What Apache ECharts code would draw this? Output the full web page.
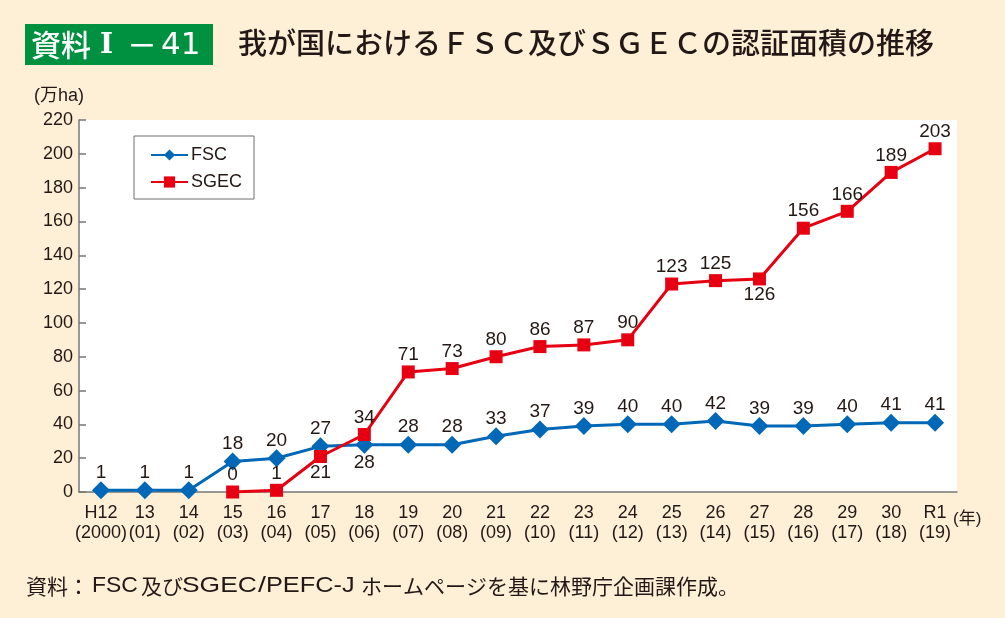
<!DOCTYPE html>
<html><head><meta charset="utf-8">
<script src="https://cdn.jsdelivr.net/npm/echarts@6/dist/echarts.min.js"></script>
<style>html,body{margin:0;padding:0;background:#fdf0d6;}#c{width:1005px;height:618px;}</style>
</head><body><div id="c"></div>
<script>
const categories = ['H12\n(2000)','13\n(01)','14\n(02)','15\n(03)','16\n(04)','17\n(05)','18\n(06)','19\n(07)','20\n(08)','21\n(09)','22\n(10)','23\n(11)','24\n(12)','25\n(13)','26\n(14)','27\n(15)','28\n(16)','29\n(17)','30\n(18)','R1\n(19)'];
const fsc = [1,1,1,18,20,27,28,28,28,33,37,39,40,40,42,39,39,40,41,41];
const sgec = [null,null,null,0,1,21,34,71,73,80,86,87,90,123,125,126,156,166,189,203];
const yTicks = [0,20,40,60,80,100,120,140,160,180,200,220];

const fscBelow = [6];
const sgecBelow = [5,15];
const numFont = '"Liberation Sans", Arial, sans-serif';
const cjk = '"Noto Sans CJK JP", sans-serif';
const ink = '#231815';

function mk(arr, below){
  return arr.map((v,i)=> v===null ? null : (below.includes(i) ? {value:v,label:{position:'bottom',distance:0}} : v));
}
function txt(x, y, s, font, fill, sx){
  return {type:'text',x:x,y:y,scaleX:sx||1,originX:0,originY:0,
    style:{x:0,y:0,text:s,font:font,fill:fill||ink,verticalAlign:'middle',align:'left'}};
}
const FY = 586;
const chart = echarts.init(document.getElementById('c'));
chart.setOption({
  backgroundColor:'#fdf0d6',
  animation:false,
  grid:{left:79,right:48,top:120,bottom:126,show:true,backgroundColor:'#ffffff',borderWidth:0},
  legend:{
    orient:'vertical',left:134,top:136,
    backgroundColor:'#ffffff',borderColor:'#6e6e6e',borderWidth:1,borderRadius:0,
    padding:[10,12,8,16],itemGap:9,itemWidth:37,itemHeight:14,
    textStyle:{fontFamily:numFont,fontSize:18,color:ink,padding:[0,0,0,-2]},
    data:['FSC','SGEC']
  },
  xAxis:{
    type:'category',data:categories,boundaryGap:true,
    axisLine:{lineStyle:{color:'#777',width:1.5}},
    axisTick:{inside:true,length:7,lineStyle:{color:'#777',width:1.5}},
    axisLabel:{fontFamily:numFont,fontSize:18,color:ink,lineHeight:20,margin:11,interval:0},
  },
  yAxis:{
    type:'value',min:yTicks[0],max:yTicks[yTicks.length-1],interval:yTicks[1]-yTicks[0],
    axisLine:{show:true,lineStyle:{color:'#777',width:1.5}},
    axisTick:{show:true,inside:true,length:7,lineStyle:{color:'#777',width:1.5}},
    splitLine:{show:false},
    axisLabel:{fontFamily:numFont,fontSize:18,color:ink,margin:6}
  },
  series:[
    {name:'FSC',type:'line',data:mk(fsc,fscBelow),symbol:'diamond',symbolSize:[18,18],
     itemStyle:{color:'#0068b7'},lineStyle:{color:'#0068b7',width:3},
     label:{show:true,position:'top',distance:-1,fontFamily:numFont,fontSize:19,color:ink},z:3},
    {name:'SGEC',type:'line',data:mk(sgec,sgecBelow),symbol:'rect',symbolSize:13,
     itemStyle:{color:'#e60012'},lineStyle:{color:'#e60012',width:3},
     label:{show:true,position:'top',distance:1,fontFamily:numFont,fontSize:19,color:ink},z:4}
  ],
  graphic:[
    {type:'rect',left:25,top:24,shape:{width:188,height:41},style:{fill:'#009140'}},
    txt(31,45,'資料','500 30px '+cjk,'#ffffff'),
    txt(100,46,'I','bold 28px "DejaVu Serif"','#ffffff'),
    txt(127,45,'－','500 30px '+cjk,'#ffffff'),
    txt(161,46,'41','31px "DejaVu Sans"','#ffffff'),
    txt(238,43,'我が国におけるＦＳＣ及びＳＧＥＣの認証面積の推移','500 29px '+cjk),
    txt(34,96,'(万ha)','18px "Liberation Sans", '+cjk),
    txt(953,519,'(年)','17px "Liberation Sans", '+cjk),
    txt(26,FY,'資料：','21px '+cjk),
    txt(92,FY,'FSC','22px '+numFont,ink,1.04),
    txt(141,FY,'及び','21px '+cjk),
    txt(182,FY,'SGEC','22px '+numFont,ink,1.2),
    txt(258,FY,'/','22px '+numFont,ink,1.3),
    txt(266,FY,'PEFC-J','22px '+numFont,ink,1.15),
    txt(361,FY,'ホームページを基に林野庁企画課作成。','21px '+cjk)
  ]
});
</script></body></html>
